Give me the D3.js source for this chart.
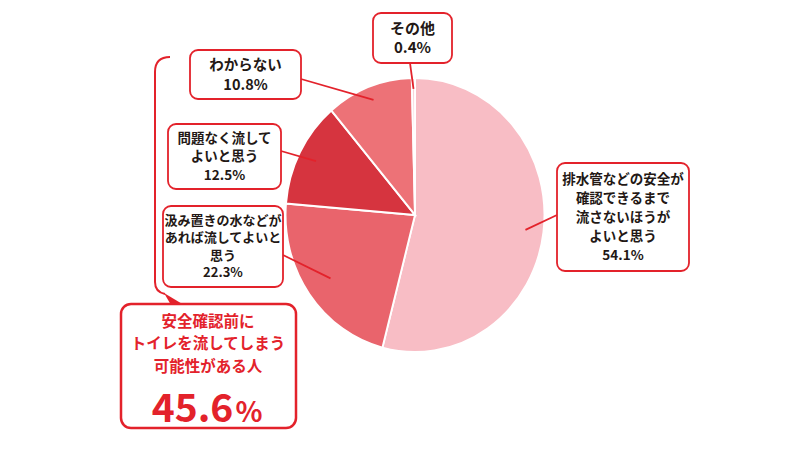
<!DOCTYPE html>
<html>
<head>
<meta charset="utf-8">
<script src="https://cdn.jsdelivr.net/npm/d3@7"></script>
<style>
  body { margin: 0; background: #fff; }
  svg { display: block; font-family: "Noto Sans CJK JP", "Noto Sans", sans-serif; font-weight: 700; }
</style>
</head>
<body>
<svg id="chart" width="800" height="450"></svg>
<script>
// 回答の内訳 (時計回り、12時から)
var answers = ["排水管などの安全が確認できるまで流さないほうがよいと思う",
               "汲み置きの水などがあれば流してよいと思う",
               "問題なく流してよいと思う",
               "わからない",
               "その他"];
var shares = [54.1, 22.3, 12.5, 10.8, 0.4];
var sliceColors = ["#f8bdc5", "#e9646c", "#d6343f", "#ed7277", "#f9d2d6"];

// ラベルの改行
var labelLines = [
    ["排水管などの安全が", "確認できるまで", "流さないほうが", "よいと思う"],
    ["汲み置きの水などが", "あれば流してよいと", "思う"],
    ["問題なく流して", "よいと思う"],
    ["わからない"],
    ["その他"]
];

// 強調ボックス
var calloutLines = ["安全確認前に", "トイレを流してしまう", "可能性がある人"];
var calloutValue = 45.6;

var RED = "#e3222b";
var INK = "#231815";

var svg = d3.select("#chart");

// pie (元画像はやや横に潰れている)
var cx = 415, cy = 215, R = 137, sx = 0.945;
var pie = d3.pie().sort(null).value(function(d) { return d; });
var arcs = pie(shares);
var arc = d3.arc().innerRadius(0).outerRadius(R);

var g = svg.append("g")
    .attr("transform", "translate(" + cx + "," + cy + ") scale(" + sx + ",1)");

g.selectAll("path.slice")
    .data(arcs)
    .enter().append("path")
    .attr("class", "slice")
    .attr("d", arc)
    .attr("fill", function(d, i) { return sliceColors[i]; })
    .attr("stroke", "#fff")
    .attr("stroke-width", 2);

// ラベルボックスの配置 (x, y, w, h, 行間, 文字サイズ, 引出線の起点)
var boxes = [
    {x: 557, y: 163, w: 132, h: 108, lh: 19,   fs: 13.5, lx: 557, ly: 215, k: 0.86},
    {x: 163, y: 206, w: 120, h: 81,  lh: 17.5, fs: 13,   lx: 283, ly: 255, k: 0.8},
    {x: 168, y: 124, w: 113, h: 65,  lh: 18.5, fs: 13.5, lx: 281, ly: 151, k: 0.86},
    {x: 190, y: 50,  w: 111, h: 49,  lh: 20,   fs: 14.5, lx: 301, ly: 79,  k: 0.9},
    {x: 373, y: 13,  w: 79,  h: 50,  lh: 19,   fs: 15,   lx: 410, ly: 63,  k: 0.92}
];

// 引出線
var leaders = svg.append("g");
arcs.forEach(function(a, i) {
    var b = boxes[i];
    var mid = (a.startAngle + a.endAngle) / 2;
    var r = R * b.k;
    var ex = cx + Math.sin(mid) * r * sx;
    var ey = cy - Math.cos(mid) * r;
    leaders.append("line")
        .attr("x1", b.lx).attr("y1", b.ly)
        .attr("x2", ex).attr("y2", ey)
        .attr("stroke", RED)
        .attr("stroke-width", 1.8);
});

var labels = svg.selectAll("g.label")
    .data(arcs)
    .enter().append("g")
    .attr("class", "label");

labels.append("rect")
    .attr("x", function(d, i) { return boxes[i].x; })
    .attr("y", function(d, i) { return boxes[i].y; })
    .attr("width", function(d, i) { return boxes[i].w; })
    .attr("height", function(d, i) { return boxes[i].h; })
    .attr("rx", 8)
    .attr("fill", "#fff")
    .attr("stroke", RED)
    .attr("stroke-width", 1.8);

labels.each(function(d, i) {
    var b = boxes[i];
    var lines = labelLines[i].concat([d3.format(".1f")(shares[i]) + "%"]);
    var top = b.y + b.h / 2 - (lines.length - 1) * b.lh / 2;
    d3.select(this).selectAll("text")
        .data(lines)
        .enter().append("text")
        .attr("x", b.x + b.w / 2)
        .attr("y", function(t, j) { return top + j * b.lh; })
        .attr("dy", "0.36em")
        .attr("text-anchor", "middle")
        .attr("font-size", b.fs)
        .attr("fill", INK)
        .text(function(t) { return t; });
});

// 括弧と吹き出し
svg.append("path")
    .attr("d", "M170,57 Q155,57 155,72 L155,282 Q155,292 165,294")
    .attr("fill", "none")
    .attr("stroke", RED)
    .attr("stroke-width", 2);

svg.append("path")
    .attr("d", "M164,293 L171,305 L184,305 Z")
    .attr("fill", RED);

var big = svg.append("g");
big.append("rect")
    .attr("x", 121).attr("y", 304)
    .attr("width", 175).attr("height", 124)
    .attr("rx", 10)
    .attr("fill", "#fff")
    .attr("stroke", RED)
    .attr("stroke-width", 2.5);

big.selectAll("text.lead")
    .data(calloutLines)
    .enter().append("text")
    .attr("class", "lead")
    .attr("x", 208)
    .attr("y", function(t, j) { return 321 + j * 22.5; })
    .attr("dy", "0.36em")
    .attr("text-anchor", "middle")
    .attr("font-size", 15.5)
    .attr("fill", RED)
    .text(function(t) { return t; });

var val = big.append("text")
    .attr("x", 207)
    .attr("y", 422)
    .attr("text-anchor", "middle")
    .attr("fill", RED)
    .attr("font-family", "'Noto Sans CJK JP', sans-serif")
    .attr("font-weight", 700);
val.append("tspan").attr("font-size", 39).text(d3.format(".1f")(calloutValue));
val.append("tspan").attr("font-size", 28).attr("dx", 2).text("%");
</script>
</body>
</html>
